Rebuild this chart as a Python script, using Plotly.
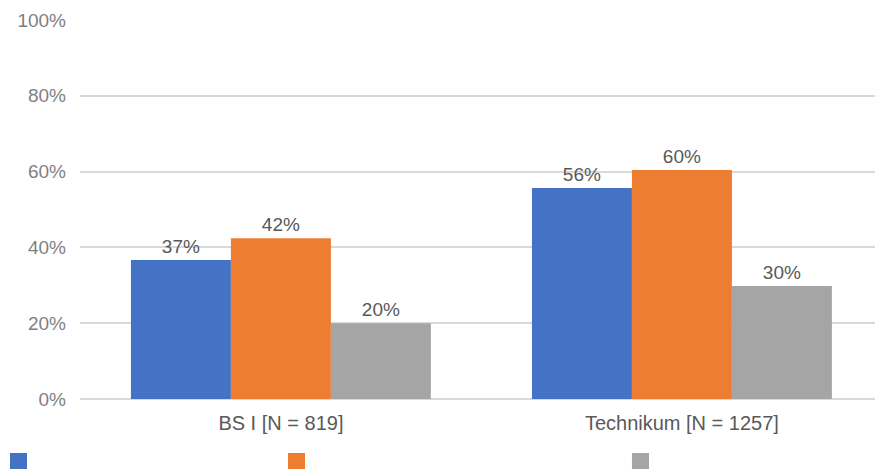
import plotly.graph_objects as go

# Chart data
categories = ["BS I [N = 819]", "Technikum [N = 1257]"]
series_names = ["Serie 1", "Serie 2", "Serie 3"]
series_1 = [0.367, 0.557]
series_2 = [0.424, 0.604]
series_3 = [0.200, 0.298]
y_ticks = [0, 0.2, 0.4, 0.6, 0.8, 1.0]

colors = ["#4472C4", "#ED7D31", "#A5A5A5"]
font_family = "Liberation Sans, Arial, sans-serif"

fig = go.Figure()
for name, vals, col in zip(series_names, [series_1, series_2, series_3], colors):
    fig.add_trace(go.Bar(
        x=categories, y=vals, name=name,
        marker=dict(color=col, line=dict(width=0)),
        texttemplate="%{y:.0%}", textposition="outside",
        textfont=dict(size=19, color="#595959", family=font_family),
        cliponaxis=False,
    ))

# Legend swatches along the bottom edge
for x0, col in zip([-0.0881, 0.2616, 0.6943], colors):
    fig.add_shape(type="rect", xref="paper", yref="paper",
                  x0=x0, x1=x0 + 0.0214, y0=-0.189, y1=-0.1425,
                  fillcolor=col, line=dict(width=0), layer="above")

fig.update_layout(
    width=875, height=469,
    margin=dict(l=80, r=0, t=20, b=70),
    plot_bgcolor="white", paper_bgcolor="white",
    barmode="group", bargap=0.252, bargroupgap=0,
    showlegend=False,
    font=dict(family=font_family, size=20, color="#595959"),
    xaxis=dict(
        type="category", range=[-0.501, 1.4815],
        showgrid=False, showline=False, ticks="",
        tickfont=dict(size=20, color="#595959"),
        ticklabelstandoff=10,
    ),
    yaxis=dict(
        range=[0, 1.0], tickvals=y_ticks, tickformat=".0%",
        showgrid=True, gridcolor="#D9D9D9", gridwidth=1.5,
        zeroline=True, zerolinecolor="#D9D9D9", zerolinewidth=1.5,
        showline=False, ticks="",
        tickfont=dict(size=19, color="#7F7F7F"),
        ticklabelstandoff=13,
    ),
)

fig.write_html("out.html")
